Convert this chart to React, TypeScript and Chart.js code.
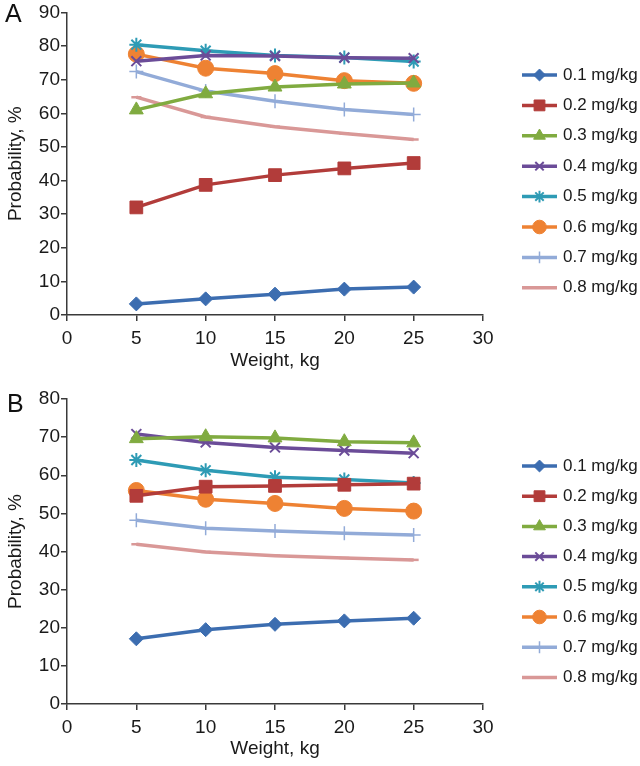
import React, { useEffect, useRef } from "react";
import { Chart, registerables } from "chart.js";
import { drawPoint } from "chart.js/helpers";

Chart.register(...registerables);

// ---------- data ----------
const weights = [5, 10, 15, 20, 25];
const doseLabels = ["0.1 mg/kg", "0.2 mg/kg", "0.3 mg/kg", "0.4 mg/kg", "0.5 mg/kg", "0.6 mg/kg", "0.7 mg/kg", "0.8 mg/kg"];

// Panel A
const a01 = [3.3, 4.8, 6.2, 7.7, 8.3];
const a02 = [32.0, 38.7, 41.6, 43.6, 45.2];
const a03 = [61.0, 65.8, 67.8, 68.7, 69.0];
const a04 = [75.5, 77.2, 77.0, 76.5, 76.4];
const a05 = [80.4, 78.6, 77.2, 76.6, 75.4];
const a06 = [77.6, 73.4, 71.8, 69.7, 68.9];
const a07 = [72.4, 66.6, 63.6, 61.1, 59.6];
const a08 = [64.8, 58.9, 56.0, 54.0, 52.2];

// Panel B
const b01 = [17.1, 19.5, 20.9, 21.8, 22.5];
const b02 = [54.6, 57.0, 57.2, 57.5, 57.8];
const b03 = [69.6, 70.1, 69.8, 68.8, 68.5];
const b04 = [70.8, 68.6, 67.3, 66.5, 65.8];
const b05 = [64.0, 61.3, 59.5, 58.9, 58.0];
const b06 = [56.0, 53.7, 52.6, 51.3, 50.6];
const b07 = [48.2, 46.1, 45.4, 44.8, 44.3];
const b08 = [41.9, 39.9, 38.9, 38.3, 37.8];

const yTicksA = [0, 10, 20, 30, 40, 50, 60, 70, 80, 90];
const yTicksB = [0, 10, 20, 30, 40, 50, 60, 70, 80];
const xTicks = [0, 5, 10, 15, 20, 25, 30];

// ---------- styles ----------
const colors = ["#3C6DB0", "#B23C3A", "#80AB40", "#6B4C98", "#2E9BB5", "#EE8233", "#92ABD8", "#D99897"];
const pointStyles = ["rectRot", "rect", "triangle", "crossRot", "star", "circle", "cross", "line"];
const pointRadii = [7, 9, 8, 7, 7, 8, 7, 5];
const pointBorderWidths = [1, 1, 1, 2, 2, 1, 1.5, 2.5];

const FONT = '"Liberation Sans", Arial, Helvetica, sans-serif';

function buildDatasets(series: number[][]) {
  return series.map((vals, i) => {
    const filled = !["crossRot", "star", "cross", "line"].includes(pointStyles[i]);
    return {
      label: doseLabels[i],
      data: vals.map((v, j) => ({ x: weights[j], y: v })),
      borderColor: colors[i],
      backgroundColor: colors[i],
      pointBackgroundColor: colors[i],
      pointBorderColor: colors[i],
      pointStyle: pointStyles[i],
      pointRadius: pointRadii[i],
      pointBorderWidth: filled ? 1 : pointBorderWidths[i],
      borderWidth: 3.5,
      tension: 0,
      order: i,
    };
  }).reverse();
}

const customLegend = {
  id: "customLegend",
  afterDraw(chart: any, _args: any, opts: any) {
    const ctx = chart.ctx;
    const ds = [...chart.data.datasets].sort((a: any, b: any) => a.order - b.order);
    ctx.save();
    ds.forEach((d: any, i: number) => {
      const y = opts.startY + i * opts.step;
      ctx.strokeStyle = d.borderColor;
      ctx.lineWidth = 3.5;
      ctx.beginPath();
      ctx.moveTo(opts.x0, y);
      ctx.lineTo(opts.x1, y);
      ctx.stroke();
      ctx.fillStyle = d.pointBackgroundColor;
      ctx.strokeStyle = d.pointBorderColor;
      ctx.lineWidth = d.pointBorderWidth;
      drawPoint(ctx, { pointStyle: d.pointStyle, radius: d.pointRadius * 0.85, rotation: 0, borderWidth: d.pointBorderWidth } as any, (opts.x0 + opts.x1) / 2, y);
      ctx.fillStyle = "#1a1a1a";
      ctx.font = `17px ${FONT}`;
      ctx.textBaseline = "middle";
      ctx.textAlign = "left";
      ctx.fillText(d.label, opts.textX, y);
    });
    // panel letter
    ctx.fillStyle = "#111";
    ctx.font = `25px ${FONT}`;
    ctx.textBaseline = "top";
    ctx.textAlign = "left";
    ctx.fillText(opts.letter, opts.letterX, opts.letterY);
    ctx.restore();
  },
};

function makeConfig(series: number[][], yTicks: number[], p: any) {
  const axisColor = "#3a3a3a";
  return {
    type: "line" as const,
    data: { datasets: buildDatasets(series) },
    plugins: [customLegend],
    options: {
      animation: false as const,
      responsive: true,
      maintainAspectRatio: false,
      layout: { padding: { left: 0, right: 640 - p.right, top: p.top, bottom: 0 } },
      plugins: {
        legend: { display: false },
        tooltip: { enabled: false },
        customLegend: p.legend,
      },
      scales: {
        x: {
          type: "linear" as const,
          min: xTicks[0],
          max: xTicks[xTicks.length - 1],
          afterBuildTicks: (s: any) => { s.ticks = xTicks.map((v) => ({ value: v })); },
          afterFit: (s: any) => { s.height = p.xHeight; },
          ticks: { color: "#1a1a1a", font: { family: FONT, size: 19 }, padding: 6, maxRotation: 0 },
          grid: { drawOnChartArea: false, drawTicks: true, tickLength: 6, color: axisColor, lineWidth: 1.5 },
          border: { display: true, color: axisColor, width: 1.5 },
          title: { display: true, text: "Weight, kg", color: "#1a1a1a", font: { family: FONT, size: 19 }, padding: { top: 0, bottom: p.xTitlePad } },
        },
        y: {
          type: "linear" as const,
          min: yTicks[0],
          max: yTicks[yTicks.length - 1],
          afterBuildTicks: (s: any) => { s.ticks = yTicks.map((v) => ({ value: v })); },
          afterFit: (s: any) => { s.width = p.left; },
          ticks: { color: "#1a1a1a", font: { family: FONT, size: 19 }, padding: 1 },
          grid: { drawOnChartArea: false, drawTicks: true, tickLength: 6, color: axisColor, lineWidth: 1.5 },
          border: { display: true, color: axisColor, width: 1.5 },
          title: { display: true, text: "Probability, %", color: "#1a1a1a", font: { family: FONT, size: 19 }, padding: { top: 4, bottom: 0 } },
        },
      },
    },
  };
}

function Panel({ series, yTicks, p }: { series: number[][]; yTicks: number[]; p: any }) {
  const ref = useRef<HTMLCanvasElement | null>(null);
  useEffect(() => {
    if (!ref.current) return;
    const chart = new Chart(ref.current, makeConfig(series, yTicks, p) as any);
    return () => chart.destroy();
  }, []);
  return (
    <div style={{ position: "relative", width: 640, height: 383 }}>
      <canvas ref={ref} />
    </div>
  );
}

export default function App() {
  const pA = {
    left: 67, right: 483, top: 8, xHeight: 68, xTitlePad: 11,
    legend: { startY: 75, step: 30.4, x0: 522, x1: 557, textX: 563, letter: "A", letterX: 5, letterY: 3 },
  };
  const pB = {
    left: 67, right: 483, top: 16, xHeight: 62, xTitlePad: 6,
    legend: { startY: 83, step: 30.2, x0: 522, x1: 557, textX: 563, letter: "B", letterX: 7, letterY: 10 },
  };
  return (
    <div style={{ position: "absolute", left: 0, top: 0, width: 640, height: 766, background: "#fff" }}>
      <Panel series={[a01, a02, a03, a04, a05, a06, a07, a08]} yTicks={yTicksA} p={pA} />
      <Panel series={[b01, b02, b03, b04, b05, b06, b07, b08]} yTicks={yTicksB} p={pB} />
    </div>
  );
}
